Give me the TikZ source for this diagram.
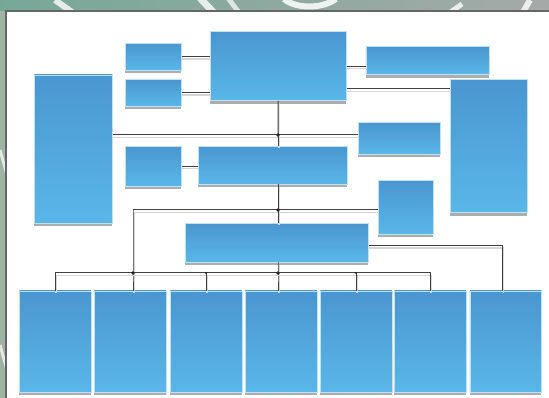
\documentclass[tikz,border=0pt]{standalone}
\usetikzlibrary{positioning, calc, shadows}

\definecolor{boxtop}{RGB}{74,150,208}
\definecolor{boxbot}{RGB}{90,183,232}
\definecolor{bgteal}{RGB}{118,168,152}
\definecolor{bggrey}{RGB}{165,170,168}
\definecolor{bgleft}{RGB}{158,180,160}

\begin{document}
\begin{tikzpicture}[
    x=1pt, y=-1pt,
    box/.style={
        draw=boxbot!40!white,
        line width=0.5pt,
        top color=boxtop,
        bottom color=boxbot,
        inner sep=0pt,
        anchor=north west,
        general shadow={fill=black!32, shadow yshift=-3pt}
    },
    wire/.style={
        draw=black!75,
        line width=1pt,
        preaction={draw=black!16, line width=1.4pt,
                   transform canvas={shift={(0.8pt,-2.4pt)}}}
    },
    joint/.style={
        circle,
        fill=black!85,
        inner sep=0pt,
        minimum size=3.6pt
    },
    smalljoint/.style={
        circle,
        fill=black!85,
        inner sep=0pt,
        minimum size=2.2pt
    }
]

% --- Background and sheet -------------------------------------------------
\useasboundingbox (0,0) rectangle (549,398);
\shade[left color=bgteal, right color=bggrey] (0,0) rectangle (549,398);
\fill[bgleft] (0,11) rectangle (7,398);
\begin{scope}
    \clip (0,0) rectangle (549,11);
    \draw[white, line width=6pt, opacity=0.8] (55,0) -- (72,12);
    \draw[white, line width=7pt, opacity=0.8] (200,-2) -- (215,14);
    \draw[white, line width=5pt, opacity=0.7] (228,-2) -- (240,14);
    \draw[white, line width=6pt, opacity=0.85] (284,-1) .. controls (296,9) and (322,9) .. (336,-1);
    \draw[white, line width=5pt, opacity=0.8] (448,14) -- (462,4);
    \draw[white, line width=6pt, opacity=0.8] (522,14) -- (530,0);
\end{scope}
\begin{scope}
    \clip (0,11) rectangle (7,398);
    \draw[white, line width=3pt, opacity=0.7] (0,150) -- (7,175);
    \draw[white, line width=3pt, opacity=0.7] (0,345) -- (7,370);
\end{scope}
\fill[white] (6,11) rectangle (552,401);
\draw[black!60, line width=1.6pt] (6,401) -- (6,11) -- (552,11);

% --- Upper block ---------------------------------------------------------
\node[box, minimum width=56pt, minimum height=27pt]    (sideA) at (125,43)    {};
\node[box, minimum width=56pt, minimum height=27pt]    (sideB) at (125,79)    {};
\node[box, minimum width=136pt, minimum height=69pt]   (head)  at (210,31.5)  {};
\node[box, minimum width=123pt, minimum height=28pt]   (staff) at (365.5,46.5) {};
\node[box, minimum width=78pt, minimum height=148pt]   (left)  at (34,74.6)   {};
\node[box, minimum width=77pt, minimum height=133pt]   (right) at (450,79.5)  {};
\node[box, minimum width=82pt, minimum height=32pt]    (aide)  at (358,122)   {};

% --- Middle block --------------------------------------------------------
\node[box, minimum width=56pt, minimum height=40pt]    (sideC) at (125,145.8) {};
\node[box, minimum width=149pt, minimum height=38pt]   (mid)   at (198,145.8) {};
\node[box, minimum width=55pt, minimum height=54pt]    (aideB) at (378,180)   {};
\node[box, minimum width=183pt, minimum height=39pt]   (lower) at (185,223)   {};

% --- Bottom row ----------------------------------------------------------
\foreach \i/\x in {1/19, 2/94, 3/170, 4/245, 5/320, 6/394, 7/469.5}
    \node[box, minimum width=71.5pt, minimum height=101.5pt] (unit\i) at (\x,290.5) {};

% --- Junctions -----------------------------------------------------------
\coordinate (j1) at (278,135);
\coordinate (j2) at (278,210);
\coordinate (j3) at (278,273);
\coordinate (jl) at (133,210);
\coordinate (jb) at (133,273);

% --- Connectors, top -----------------------------------------------------
\draw[wire] (sideA.east) -- (sideA.east -| head.west);
\draw[wire] (sideB.east) -- (sideB.east -| head.west);
\draw[wire] (head.east) -- (head.east -| staff.west);
\draw[wire] ([yshift=12pt]head.south east) -- ([yshift=12pt]head.south east -| right.west);
\draw[wire] (head.south) -- (j1);
\draw[wire] (j1 -| left.east) -- (j1 -| aide.west);
\draw[wire] (j1) -- (j1 |- mid.north);

% --- Connectors, middle --------------------------------------------------
\draw[wire] (sideC.east) -- (sideC.east -| mid.west);
\draw[wire] (j1 |- mid.south) -- (j2);
\draw[wire] (jl) -- (j2 -| aideB.west);
\draw[wire] (j2) -- (j2 |- lower.north);
\draw[wire] (jl) -- (jb) -- (jb |- unit2.north);
\draw[wire] (j2 |- lower.south) -- (j3) -- (j3 |- unit4.north);
\draw[wire] ([yshift=-3pt]lower.east) -- ([yshift=-3pt]lower.east -| 502.5,0)
    -- (502.5,0 |- unit7.north);

% --- Bus to bottom row ---------------------------------------------------
\draw[wire] (unit1.north) -- (unit1.north |- j3) -- (unit6.north |- j3) -- (unit6.north);
\foreach \i in {3,5}
    \draw[wire] (unit\i.north |- j3) -- (unit\i.north);

% --- Dots ----------------------------------------------------------------
\foreach \p in {j1, j2, j3, jb}
    \node[joint] at (\p) {};
\node[smalljoint] at (unit3.north |- j3) {};
\node[smalljoint] at (unit5.north |- j3) {};

\end{tikzpicture}
\end{document}
